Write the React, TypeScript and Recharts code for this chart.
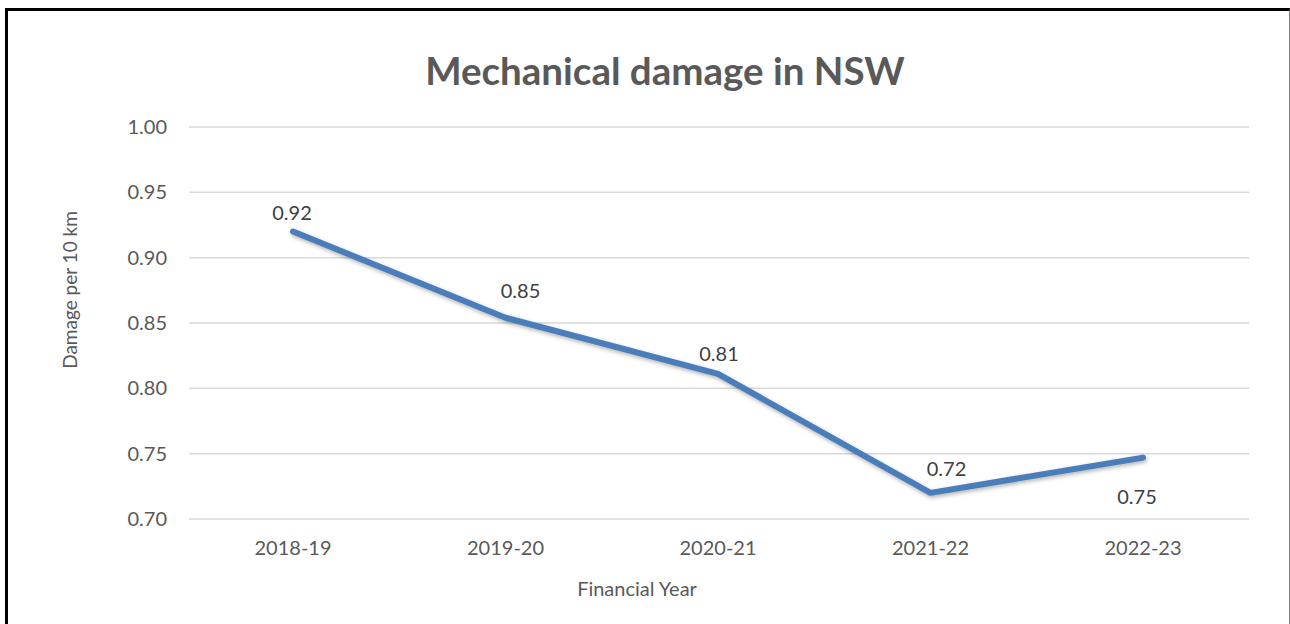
import React from "react";
import { LineChart, Line, XAxis, YAxis, CartesianGrid, LabelList } from "recharts";

const categories = ["2018-19", "2019-20", "2020-21", "2021-22", "2022-23"];
const damagePer10km = [0.92, 0.854, 0.811, 0.72, 0.747];
const yTicks = [0.7, 0.75, 0.8, 0.85, 0.9, 0.95, 1.0];

// label placement relative to each point (dx, dy), mirrors manual placement in the source chart
const labelOffsets: [number, number][] = [
  [-1, -20],
  [15, -28],
  [1, -21],
  [16, -25],
  [-6, 38],
];

const data = categories.map((c, i) => ({ year: c, value: damagePer10km[i] }));

const FONT = "Lato, 'Open Sans', sans-serif";
const GREY = "#595959";

const renderLabel = (props: any) => {
  const { x, y, value, index } = props;
  const [dx, dy] = labelOffsets[index] || [0, -20];
  return (
    <text
      x={Number(x) + dx}
      y={Number(y) + dy}
      textAnchor="middle"
      dominantBaseline="central"
      fill="#404040"
      fontFamily={FONT}
      fontSize={20}
    >
      {Number(value).toFixed(2)}
    </text>
  );
};

export default function App() {
  return (
    <div style={{ position: "relative", width: 1290, height: 624, overflow: "hidden", background: "#fff" }}>
      <style>{`body{margin:0} .recharts-line-curve{filter:drop-shadow(1px 2px 2px rgba(0,0,0,0.3));}`}</style>
      <div
        style={{
          position: "absolute",
          left: 5,
          top: 8,
          width: 1281,
          height: 640,
          borderLeft: "3px solid #000",
          borderTop: "3px solid #000",
          borderRight: "1px solid #808080",
        }}
      />
      <div
        style={{
          position: "absolute",
          left: 0,
          width: 1330,
          top: 45,
          textAlign: "center",
          fontFamily: FONT,
          fontWeight: 700,
          fontSize: 38.5,
          color: GREY,
          lineHeight: "50px",
        }}
      >
        Mechanical damage in NSW
      </div>
      <div
        style={{
          position: "absolute",
          left: 437,
          width: 400,
          top: 575,
          textAlign: "center",
          fontFamily: FONT,
          fontSize: 20,
          color: GREY,
          lineHeight: "26px",
        }}
      >
        Financial Year
      </div>
      <div
        style={{
          position: "absolute",
          left: 70 - 150,
          top: 290 - 13,
          width: 300,
          height: 26,
          textAlign: "center",
          fontFamily: FONT,
          fontSize: 19,
          color: GREY,
          lineHeight: "26px",
          transform: "rotate(-90deg)",
        }}
      >
        Damage per 10 km
      </div>
      <div style={{ position: "absolute", left: 0, top: 0 }}>
        <LineChart width={1290} height={624} data={data} margin={{ top: 127, right: 41, bottom: 75, left: 0 }}>
          <CartesianGrid vertical={false} stroke="#d9d9d9" strokeWidth={1.5} />
          <XAxis
            dataKey="year"
            height={30}
            padding={{ left: 104, right: 106 }}
            axisLine={false}
            tickLine={false}
            tickSize={0}
            tickMargin={22}
            tick={{ fill: GREY, fontSize: 20, fontFamily: FONT }}
          />
          <YAxis
            width={189}
            domain={[0.7, 1.0]}
            ticks={yTicks}
            interval={0}
            axisLine={false}
            tickLine={false}
            tickSize={0}
            tickMargin={22}
            tickFormatter={(v: number) => v.toFixed(2)}
            tick={{ fill: GREY, fontSize: 20, fontFamily: FONT }}
          />
          <Line
            type="linear"
            dataKey="value"
            stroke="#4a7ebb"
            strokeWidth={6}
            strokeLinecap="round"
            strokeLinejoin="round"
            dot={false}
            activeDot={false}
            isAnimationActive={false}
          >
            <LabelList dataKey="value" content={renderLabel} />
          </Line>
        </LineChart>
      </div>
    </div>
  );
}
